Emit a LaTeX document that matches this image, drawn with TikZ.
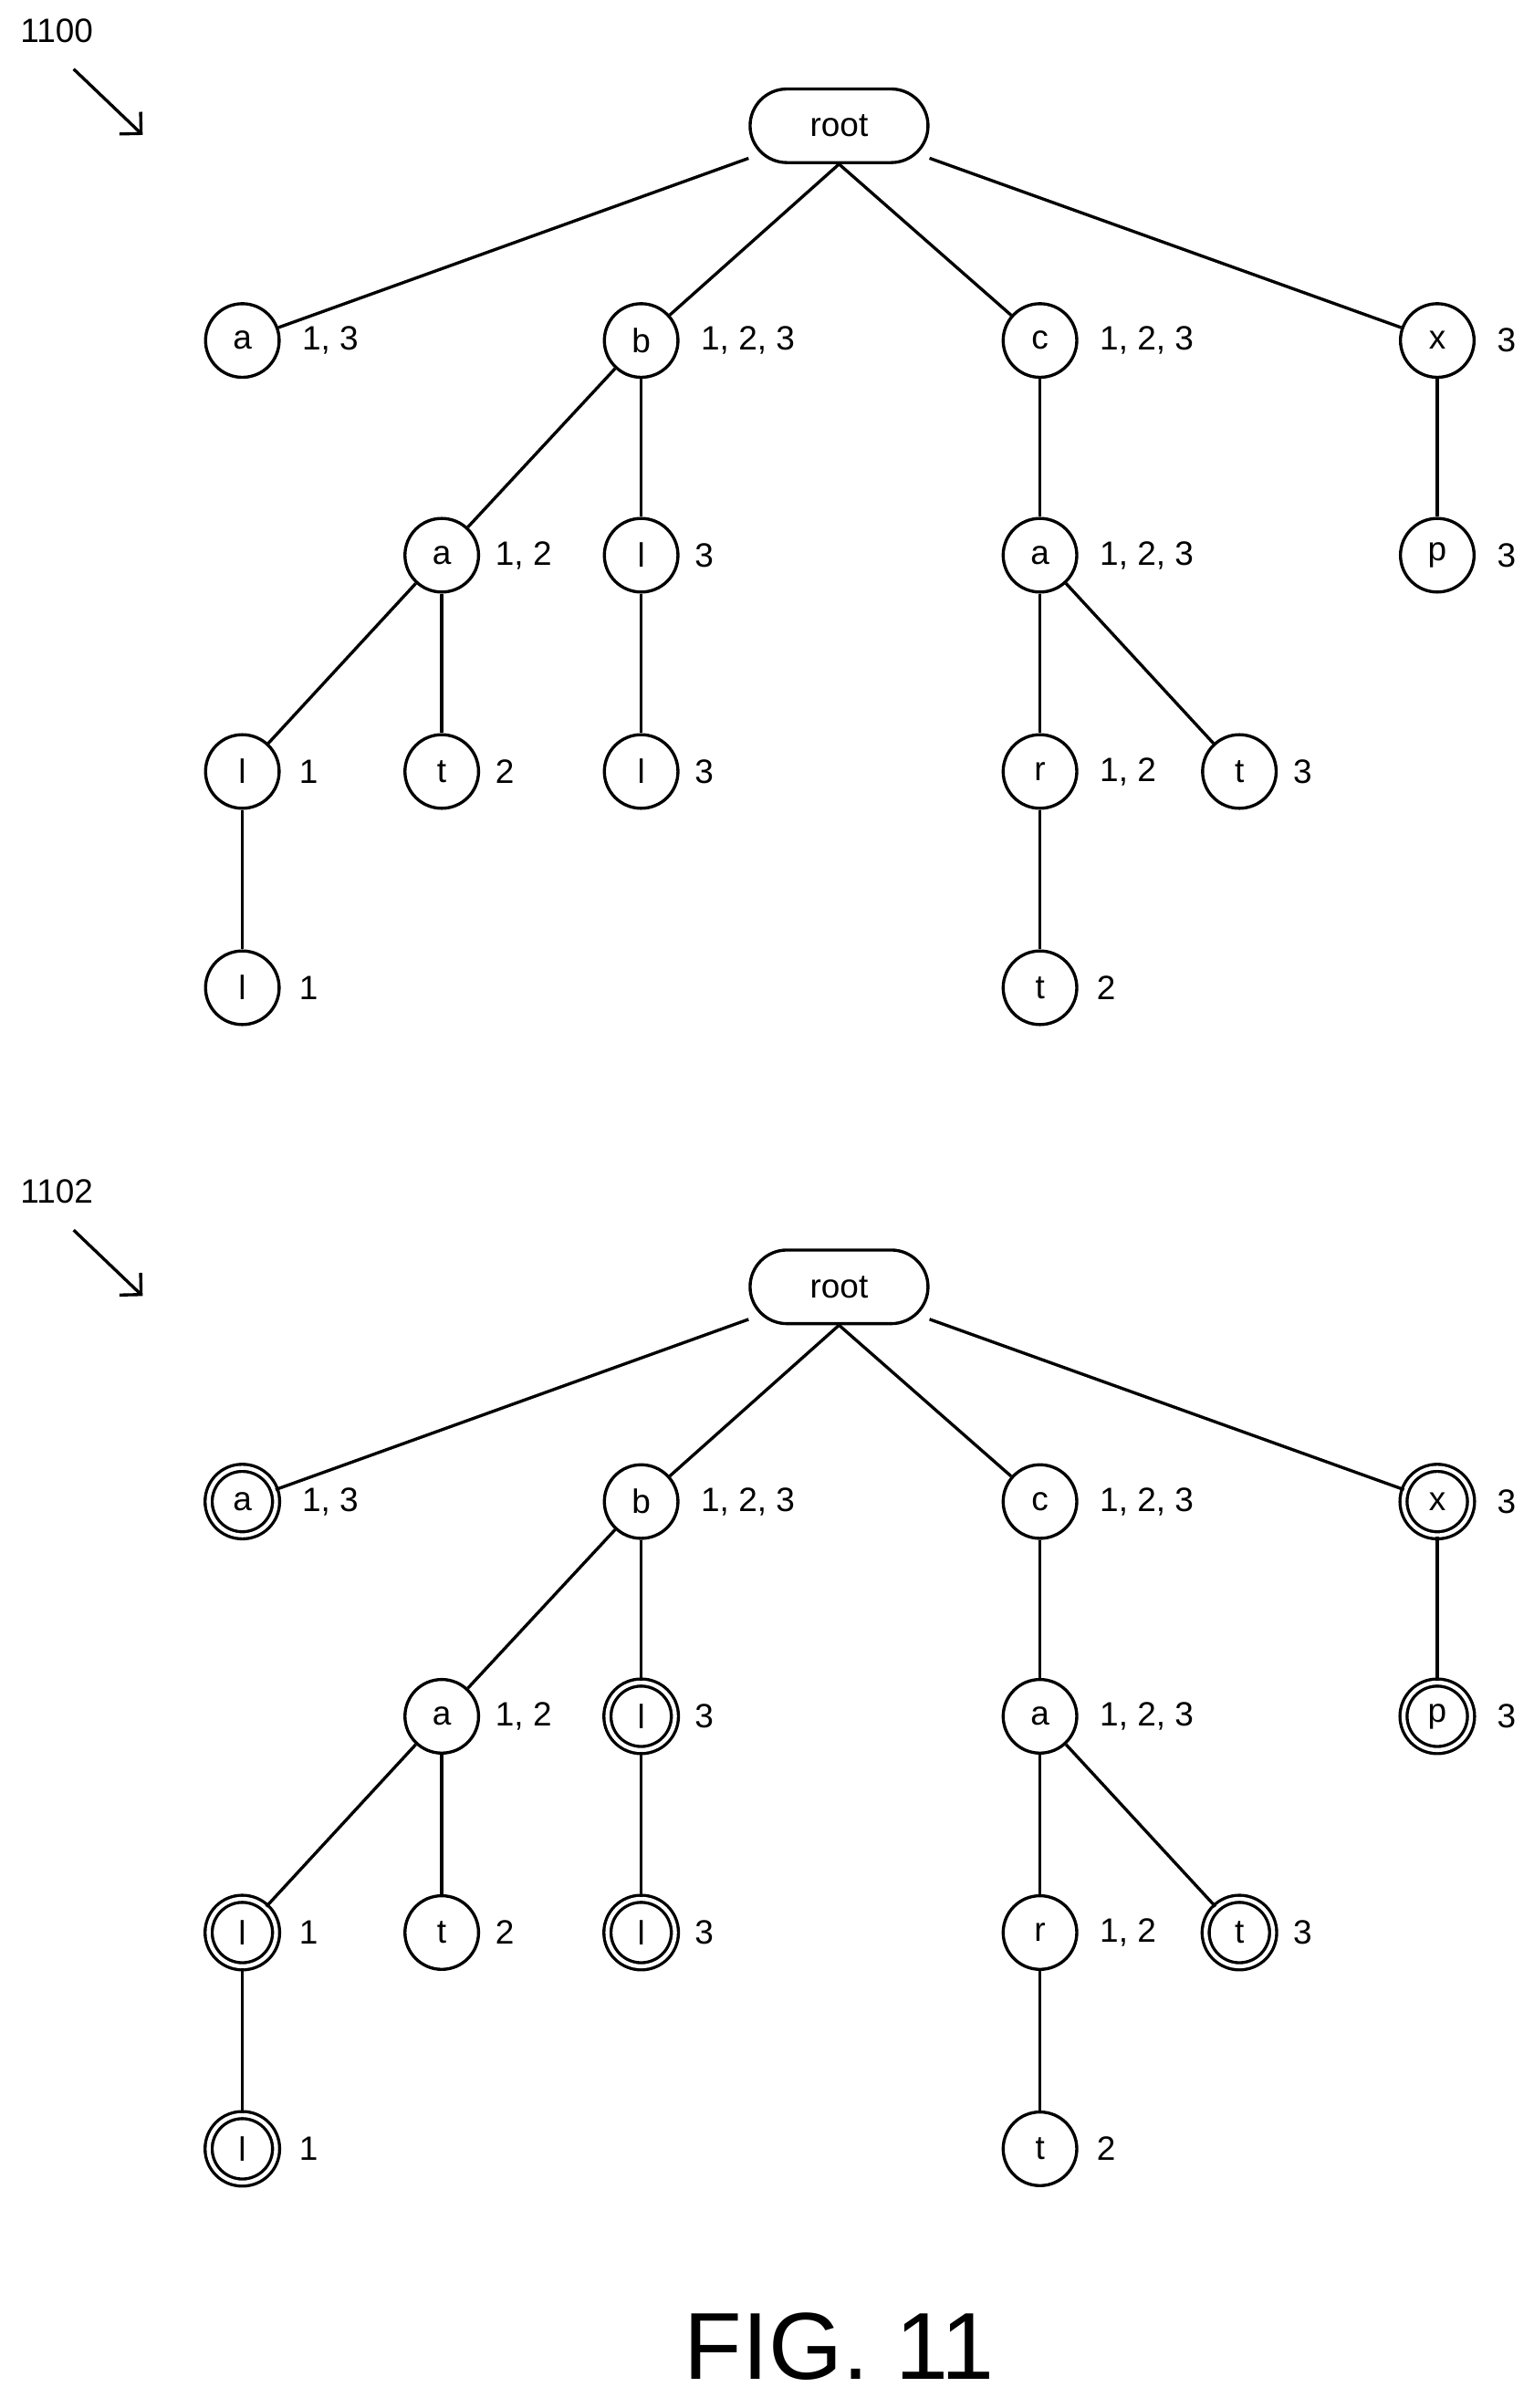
\documentclass[tikz,border=0pt]{standalone}
\usepackage{fontspec}
\setmainfont{Liberation Sans}
\usetikzlibrary{arrows.meta}
\begin{document}
\begin{tikzpicture}[x=0.5pt,y=-0.5pt,line width=1pt,
  nd/.style={circle,draw,minimum size=24pt,inner sep=0pt,font=\fontsize{11}{13}\selectfont},
  dbl/.style={nd,double,double distance=1.3pt,minimum size=22pt},
  rt/.style={draw,rounded corners=12pt,minimum width=58pt,minimum height=24pt,font=\fontsize{11}{13}\selectfont},
  lb/.style={anchor=west,font=\fontsize{11}{13}\selectfont,inner sep=0pt},
  ref/.style={font=\fontsize{11}{13}\selectfont}]
\useasboundingbox (0,0) rectangle (1000,1570);
\newcommand\mytree[9]{%
\begin{scope}[yshift=#1]
\node[rt] (#2root) at (547,82) {root};
\node[#3] (#2a) at (158,222) {a}; \node[lb] at (196,222) {1, 3};
\node[nd] (#2b) at (418,222) {b}; \node[lb] at (456,222) {1, 2, 3};
\node[nd] (#2c) at (678,222) {c}; \node[lb] at (716,222) {1, 2, 3};
\node[#4] (#2x) at (937,222) {x}; \node[lb] at (975,222) {3};
\node[nd] (#2ba) at (288,362) {a}; \node[lb] at (322,362) {1, 2};
\node[#5] (#2bl) at (418,362) {l}; \node[lb] at (452,362) {3};
\node[nd] (#2ca) at (678,362) {a}; \node[lb] at (716,362) {1, 2, 3};
\node[#4] (#2xp) at (937,362) {p}; \node[lb] at (975,362) {3};
\node[#6] (#2bal) at (158,503) {l}; \node[lb] at (194,503) {1};
\node[nd] (#2bat) at (288,503) {t}; \node[lb] at (322,503) {2};
\node[#5] (#2bll) at (418,503) {l}; \node[lb] at (452,503) {3};
\node[nd] (#2car) at (678,503) {r}; \node[lb] at (716,503) {1, 2};
\node[#7] (#2cat) at (808,503) {t}; \node[lb] at (842,503) {3};
\node[#6] (#2ball) at (158,644) {l}; \node[lb] at (194,644) {1};
\node[nd] (#2cart) at (678,644) {t}; \node[lb] at (714,644) {2};
\draw (#2root) -- (#2a); \draw (#2root.south) -- (#2b); \draw (#2root.south) -- (#2c); \draw (#2root) -- (#2x);
\draw (#2b) -- (#2ba); \draw (#2b) -- (#2bl); \draw (#2c) -- (#2ca); \draw (#2x) -- (#2xp);
\draw (#2ba) -- (#2bal); \draw (#2ba) -- (#2bat); \draw (#2bl) -- (#2bll);
\draw (#2ca) -- (#2car); \draw (#2ca) -- (#2cat);
\draw (#2bal) -- (#2ball); \draw (#2car) -- (#2cart);
\node[ref] (#2lab) at (37,20) {#8};
\coordinate (#2s) at (48,45); \coordinate (#2e) at (93,88);
\draw[-{Straight Barb[length=5pt]}] (#2s) -- (#2e);
\end{scope}}
\mytree{0}{A}{nd}{nd}{nd}{nd}{nd}{1100}{}
\mytree{-378.5pt}{B}{dbl}{dbl}{dbl}{dbl}{dbl}{1102}{}
\node[font=\fontsize{31}{36}\selectfont] (fig) at (547,1530) {FIG. 11};
\end{tikzpicture}
\end{document}
